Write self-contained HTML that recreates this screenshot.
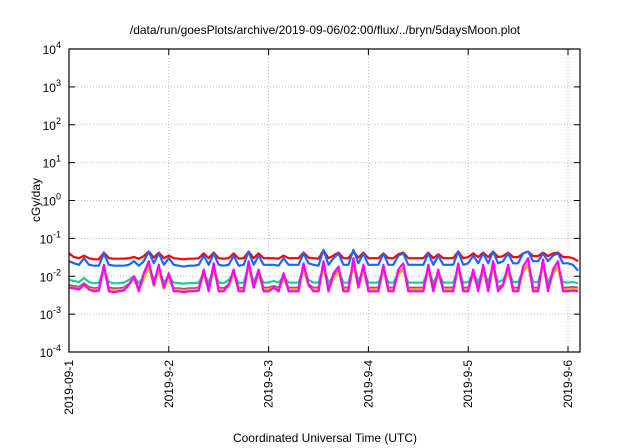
<!DOCTYPE html>
<html><head><meta charset="utf-8"><style>
html,body{margin:0;padding:0;background:#fff;}
svg{display:block;font-family:"Liberation Sans",sans-serif;}
</style></head><body>
<svg id="chart" width="640" height="448" viewBox="0 0 640 448">
<text x="325" y="34" font-size="12" text-anchor="middle">/data/run/goesPlots/archive/2019-09-06/02:00/flux/../bryn/5daysMoon.plot</text>
<text transform="translate(40,200) rotate(-90)" font-size="12" text-anchor="middle">cGy/day</text>
<text x="325" y="442" font-size="12" text-anchor="middle">Coordinated Universal Time (UTC)</text>
<g id="grid"></g><g id="series"></g><g id="axes"></g>
</svg>
<script>
const xTickLabels=["2019-09-1","2019-9-2","2019-9-3","2019-9-4","2019-9-5","2019-9-6"];
const yTickExps=[-4,-3,-2,-1,0,1,2,3,4];
const magenta=[.005,.0048,.0045,.006,.0045,.004,.0042,.02,.004,.0038,.004,.0042,.006,.01,.004,.012,.025,.006,.02,.005,
.012,.004,.004,.0038,.004,.004,.0042,.015,.004,.022,.004,.004,.006,.015,.004,.004,.025,.005,.015,.004,
.004,.005,.004,.012,.004,.004,.004,.022,.006,.004,.004,.025,.004,.012,.018,.004,.004,.03,.005,.02,
.004,.004,.004,.02,.004,.004,.015,.022,.004,.004,.004,.004,.02,.004,.015,.004,.004,.004,.022,.004,
.004,.015,.004,.02,.004,.025,.004,.006,.02,.004,.004,.018,.03,.004,.004,.028,.004,.015,.025,.004,.004,.0042,.004];
const blue=[.025,.022,.02,.03,.02,.019,.019,.04,.02,.019,.019,.019,.02,.025,.019,.025,.045,.022,.04,.02,
.03,.02,.019,.018,.019,.019,.02,.035,.02,.04,.02,.019,.02,.035,.019,.02,.045,.02,.035,.02,
.02,.02,.019,.03,.02,.02,.02,.04,.022,.02,.019,.05,.02,.03,.04,.02,.02,.05,.022,.04,
.02,.02,.02,.04,.02,.02,.035,.04,.02,.02,.02,.02,.04,.02,.035,.02,.02,.02,.045,.02,
.022,.035,.022,.04,.022,.045,.022,.025,.04,.022,.022,.04,.045,.025,.025,.04,.025,.035,.04,.022,.022,.02,.014];
const red=[.04,.032,.03,.035,.03,.028,.028,.042,.03,.029,.029,.029,.03,.032,.029,.034,.045,.031,.042,.03,
.035,.03,.029,.028,.029,.029,.03,.04,.03,.042,.03,.029,.03,.04,.029,.03,.045,.03,.04,.03,
.03,.03,.029,.035,.03,.03,.03,.042,.031,.03,.029,.048,.03,.035,.042,.03,.03,.045,.031,.042,
.03,.03,.03,.04,.03,.03,.038,.042,.03,.03,.03,.03,.042,.03,.038,.03,.03,.03,.045,.03,
.032,.04,.032,.042,.032,.045,.032,.034,.042,.032,.032,.04,.045,.034,.034,.042,.034,.04,.042,.032,.032,.03,.025];
const green=[.008,.0075,.007,.009,.007,.0065,.0068,.015,.007,.0065,.0066,.0068,.008,.01,.0066,.01,.018,.008,.015,.007,
.01,.0068,.0066,.0064,.0066,.0066,.0068,.012,.0068,.016,.0068,.0066,.008,.012,.0066,.0068,.018,.0075,.012,.0068,
.0068,.0075,.0068,.01,.0068,.0068,.0068,.016,.008,.0068,.0068,.018,.0068,.01,.014,.0068,.0068,.02,.0075,.015,
.0068,.0068,.0068,.015,.0068,.0068,.012,.016,.0068,.0068,.0068,.0068,.015,.0068,.012,.0068,.0068,.0068,.016,.0068,
.007,.012,.007,.015,.007,.018,.007,.008,.015,.007,.007,.014,.02,.007,.007,.02,.007,.012,.018,.007,.0068,.007,.0065];
const brown=[.0058,.0055,.0052,.0065,.0052,.0048,.005,.015,.005,.0048,.0048,.005,.0062,.009,.0048,.009,.018,.006,.015,.0052,
.009,.0048,.0048,.0046,.0048,.0048,.005,.012,.005,.016,.005,.0048,.006,.012,.0048,.005,.018,.0055,.012,.005,
.005,.0055,.005,.009,.005,.005,.005,.016,.006,.005,.005,.018,.005,.009,.014,.005,.005,.02,.0055,.015,
.005,.005,.005,.015,.005,.005,.012,.016,.005,.005,.005,.005,.015,.005,.012,.005,.005,.005,.016,.005,
.005,.012,.005,.015,.005,.018,.005,.006,.015,.005,.005,.014,.02,.005,.005,.02,.005,.012,.018,.005,.005,.0052,.005];
const orange=[.0052,.005,.0047,.006,.0047,.0044,.0045,.014,.0045,.0043,.0044,.0045,.0058,.0085,.0044,.0085,.017,.0055,.014,.0047,
.0085,.0044,.0044,.0042,.0044,.0044,.0045,.011,.0045,.015,.0045,.0044,.0055,.011,.0044,.0045,.017,.005,.011,.0045,
.0045,.005,.0045,.0085,.0045,.0045,.0045,.015,.0055,.0045,.0045,.017,.0045,.0085,.013,.0045,.0045,.019,.005,.014,
.0045,.0045,.0045,.014,.0045,.0045,.011,.015,.0045,.0045,.0045,.0045,.014,.0045,.011,.0045,.0045,.0045,.015,.0045,
.0045,.011,.0045,.014,.0045,.017,.0045,.0055,.014,.0045,.0045,.013,.019,.0045,.0045,.019,.0045,.011,.017,.0045,.0045,.0047,.0045];
const stepDays=0.05;
const L=69,R=580,T=49,B=352,dayPx=99.8;
const xS=d=>L+d*dayPx;
const yS=v=>B-(Math.log10(v)+4)*(B-T)/8;
const NS="http://www.w3.org/2000/svg";
function mk(tag,attrs,parent){const e=document.createElementNS(NS,tag);for(const k in attrs)e.setAttribute(k,attrs[k]);parent.appendChild(e);return e;}
const grid=document.getElementById('grid'),axes=document.getElementById('axes'),ser=document.getElementById('series');
yTickExps.forEach((p,i)=>{const y=yS(Math.pow(10,p));
 if(i>0&&i<yTickExps.length-1){const g=mk('line',{x1:L,x2:R,y1:y,y2:y,stroke:'#bbb','stroke-dasharray':'1,2','stroke-width':1},grid);
 }
 const t=mk('line',{x1:L,x2:L+6,y1:y,y2:y,stroke:'#000'},axes);
 const t2=mk('line',{x1:R-6,x2:R,y1:y,y2:y,stroke:'#000'},axes);
 const tx=mk('text',{x:L-8,y:y+5,'font-size':12,'text-anchor':'end'},axes);
 
 tx.textContent='10';const s=mk('tspan',{dy:-6,'font-size':9},tx);s.textContent=String(p);
});
xTickLabels.forEach((lab,i)=>{const x=xS(i);
 if(i>0){const g=mk('line',{x1:x,x2:x,y1:T,y2:B,stroke:'#bbb','stroke-dasharray':'1,2'},grid);}
 const t=mk('line',{x1:x,x2:x,y1:B-6,y2:B,stroke:'#000'},axes);
 const t2=mk('line',{x1:x,x2:x,y1:T,y2:T+6,stroke:'#000'},axes);
 const tx=mk('text',{transform:`translate(${x+4},${B+8}) rotate(-90)`,'font-size':12,'text-anchor':'end'},axes);
 tx.textContent=lab;
});
const frame=mk('rect',{x:L,y:T,width:R-L,height:B-T,fill:'none',stroke:'#000','stroke-width':1.2},axes);

const seriesList=[[red,'#ff0000','series-red'],[blue,'#1a66ff','series-blue'],[green,'#1fcc99','series-green'],[brown,'#a0507a','series-brown'],[orange,'#e8b020','series-orange'],[magenta,'#ff00ff','series-magenta']];
seriesList.forEach(([arr,col,name])=>{
 const d=arr.map((v,i)=>(i?'L':'M')+xS(i*stepDays).toFixed(1)+','+yS(v).toFixed(1)).join('');
 const p=mk('path',{d:d,fill:'none',stroke:col,'stroke-width':2.2,'stroke-linejoin':'round'},ser);
 
});
</script>
</body></html>
